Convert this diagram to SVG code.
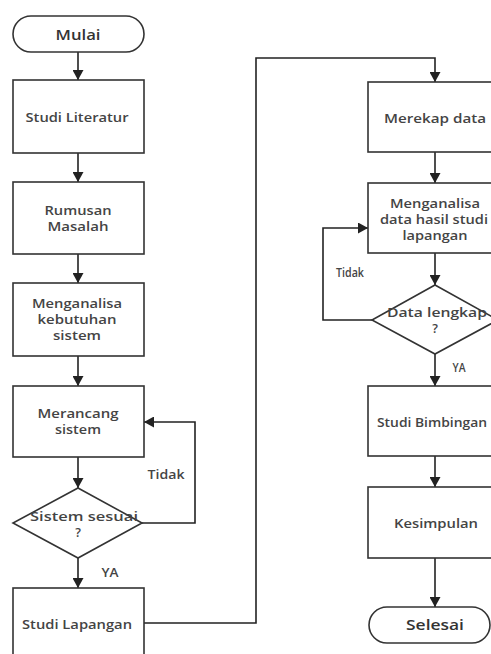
<svg xmlns="http://www.w3.org/2000/svg" width="491" height="654" viewBox="0 0 491 654">
<defs>
<marker id="ah" markerUnits="userSpaceOnUse" markerWidth="11" markerHeight="11" refX="10" refY="5.5" orient="auto">
<path d="M0,0 L10,5.5 L0,11 z" fill="#222"/>
</marker>
<style>
.s{fill:#fff;stroke:#333;stroke-width:1.6}
.c{fill:none;stroke:#222;stroke-width:1.6}
.a{marker-end:url(#ah)}
text{font-family:"Open Sans","Liberation Sans",sans-serif;font-size:12.5px;font-weight:600;fill:#444;text-anchor:middle}
.b{font-size:14.5px;fill:#333}
</style>
</defs>
<rect width="491" height="654" fill="#fff"/>
<g id="connectors">
<path class="c a" d="M78,52 V80"/>
<path class="c a" d="M78,153 V182"/>
<path class="c a" d="M78,254 V283"/>
<path class="c a" d="M78,356 V386"/>
<path class="c a" d="M78,457 V488"/>
<path class="c a" d="M78,558 V588"/>
<path class="c a" d="M142,523 H195 V422 H144"/>
<path class="c a" d="M144,623 H256 V58 H435 V82"/>
<path class="c a" d="M435,152 V183"/>
<path class="c a" d="M435,253 V285"/>
<path class="c a" d="M372,320 H323 V228 H368"/>
<path class="c a" d="M435,354 V386"/>
<path class="c a" d="M435,456 V487"/>
<path class="c a" d="M435,558 V607"/>
<text x="166" y="479" textLength="37" lengthAdjust="spacingAndGlyphs">Tidak</text>
<text x="110" y="577" textLength="17" lengthAdjust="spacingAndGlyphs">YA</text>
<text x="350" y="277" textLength="28" lengthAdjust="spacingAndGlyphs">Tidak</text>
<text x="459" y="372" textLength="13" lengthAdjust="spacingAndGlyphs">YA</text>
</g>
<g id="mulai">
<rect class="s" x="13" y="16" width="131" height="36" rx="18" ry="18"/>
<text class="b" x="78" y="40" textLength="45" lengthAdjust="spacingAndGlyphs">Mulai</text>
</g>
<g id="studi-literatur">
<rect class="s" x="13" y="80" width="131" height="73"/>
<text x="77" y="122" textLength="103" lengthAdjust="spacingAndGlyphs">Studi Literatur</text>
</g>
<g id="rumusan-masalah">
<rect class="s" x="13" y="182" width="131" height="72"/>
<text x="78" y="215" textLength="67" lengthAdjust="spacingAndGlyphs">Rumusan</text>
<text x="78" y="231" textLength="61" lengthAdjust="spacingAndGlyphs">Masalah</text>
</g>
<g id="menganalisa-kebutuhan">
<rect class="s" x="13" y="283" width="131" height="73"/>
<text x="77" y="308" textLength="90" lengthAdjust="spacingAndGlyphs">Menganalisa</text>
<text x="77" y="324" textLength="79" lengthAdjust="spacingAndGlyphs">kebutuhan</text>
<text x="77" y="340" textLength="48" lengthAdjust="spacingAndGlyphs">sistem</text>
</g>
<g id="merancang-sistem">
<rect class="s" x="13" y="386" width="131" height="71"/>
<text x="78" y="418" textLength="81" lengthAdjust="spacingAndGlyphs">Merancang</text>
<text x="78" y="434" textLength="46" lengthAdjust="spacingAndGlyphs">sistem</text>
</g>
<g id="sistem-sesuai">
<polygon class="s" points="78,488 142,523 78,558 13,523"/>
<text x="84" y="521" textLength="108" lengthAdjust="spacingAndGlyphs">Sistem sesuai</text>
<text x="78" y="537">?</text>
</g>
<g id="studi-lapangan">
<rect class="s" x="13" y="588" width="131" height="80"/>
<text x="77" y="629" textLength="110" lengthAdjust="spacingAndGlyphs">Studi Lapangan</text>
</g>
<g id="merekap-data">
<rect class="s" x="368" y="82" width="134" height="70"/>
<text x="435" y="123" textLength="102" lengthAdjust="spacingAndGlyphs">Merekap data</text>
</g>
<g id="menganalisa-data">
<rect class="s" x="368" y="183" width="134" height="70"/>
<text x="435" y="208" textLength="90" lengthAdjust="spacingAndGlyphs">Menganalisa</text>
<text x="434" y="224" textLength="108" lengthAdjust="spacingAndGlyphs">data hasil studi</text>
<text x="435" y="240" textLength="65" lengthAdjust="spacingAndGlyphs">lapangan</text>
</g>
<g id="data-lengkap">
<polygon class="s" points="435,285 498,320 435,354 372,320"/>
<text x="437" y="317" textLength="100" lengthAdjust="spacingAndGlyphs">Data lengkap</text>
<text x="435" y="333">?</text>
</g>
<g id="studi-bimbingan">
<rect class="s" x="368" y="386" width="134" height="70"/>
<text x="432" y="427" textLength="110" lengthAdjust="spacingAndGlyphs">Studi Bimbingan</text>
</g>
<g id="kesimpulan">
<rect class="s" x="368" y="487" width="134" height="71"/>
<text x="436" y="528" textLength="84" lengthAdjust="spacingAndGlyphs">Kesimpulan</text>
</g>
<g id="selesai">
<rect class="s" x="369" y="607" width="121" height="36" rx="18" ry="18"/>
<text class="b" x="435" y="630" textLength="58" lengthAdjust="spacingAndGlyphs">Selesai</text>
</g>
</svg>
